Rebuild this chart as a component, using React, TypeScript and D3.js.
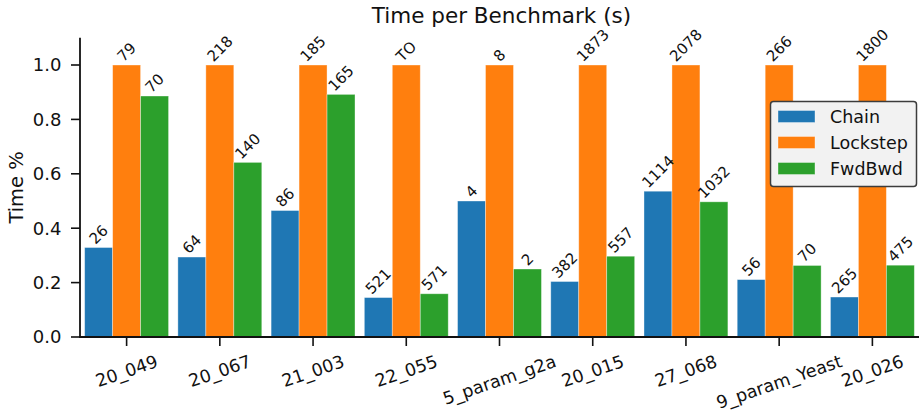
import React, { useEffect, useRef } from 'react'
import * as d3 from 'd3'

const categories = ['20_049', '20_067', '21_003', '22_055', '5_param_g2a', '20_015', '27_068', '9_param_Yeast', '20_026']
const chain = [0.329, 0.294, 0.465, 0.145, 0.5, 0.204, 0.536, 0.211, 0.147]
const lockstep = [1, 1, 1, 1, 1, 1, 1, 1, 1]
const fwdBwd = [0.886, 0.642, 0.892, 0.159, 0.25, 0.297, 0.497, 0.263, 0.264]
const chainLabels = ['26', '64', '86', '521', '4', '382', '1114', '56', '265']
const lockstepLabels = ['79', '218', '185', 'TO', '8', '1873', '2078', '266', '1800']
const fwdBwdLabels = ['70', '140', '165', '571', '2', '557', '1032', '70', '475']
const seriesNames = ['Chain', 'Lockstep', 'FwdBwd']
const yTicks = [0, 0.2, 0.4, 0.6, 0.8, 1.0]

const W = 921
const H = 417
const FONT = 'DejaVu Sans'
const colors = ['#1f77b4', '#ff7f0e', '#2ca02c']
const ink = '#111'

const App = () => {
    const svgRef = useRef<SVGSVGElement>(null)

    useEffect(() => {
        const svg = d3.select(svgRef.current)
        svg.selectAll('*').remove()

        const x = d3.scaleLinear().domain([-0.5, 8.5]).range([80, 919])
        const y = d3.scaleLinear().domain([0, 1.1]).range([337, 37.8])
        const bw = 0.3

        const series = [
            { name: seriesNames[0], values: chain, labels: chainLabels, off: -bw },
            { name: seriesNames[1], values: lockstep, labels: lockstepLabels, off: 0 },
            { name: seriesNames[2], values: fwdBwd, labels: fwdBwdLabels, off: bw },
        ]

        // bars
        series.forEach((s, si) => {
            svg.append('g')
                .selectAll('rect')
                .data(s.values)
                .join('rect')
                .attr('x', (d, i) => x(i + s.off - bw / 2))
                .attr('width', x(bw) - x(0))
                .attr('y', d => y(d))
                .attr('height', d => y(0) - y(d))
                .attr('fill', colors[si])
                .attr('stroke', 'white')
                .attr('stroke-opacity', 0.45)
                .attr('stroke-width', 0.8)
        })

        // rotated value labels (bbox centered, bottom at bar top)
        const afs = 15
        const a = Math.PI / 4
        series.forEach((s) => {
            s.values.forEach((v, i) => {
                const g = svg.append('g')
                const t = g.append('text')
                    .text(s.labels[i])
                    .attr('font-family', FONT)
                    .attr('font-size', afs)
                    .attr('fill', ink)
                    .attr('text-anchor', 'middle')
                    .attr('y', 0.346 * afs)
                const w = (t.node() as SVGTextElement).getComputedTextLength()
                const h = 1.164 * afs
                const bh = w * Math.sin(a) + h * Math.cos(a)
                g.attr('transform', `translate(${x(i + s.off)},${y(v) - bh / 2}) rotate(-45)`)
            })
        })

        // spines
        svg.append('line')
            .attr('x1', 80).attr('x2', 80).attr('y1', y(1.1)).attr('y2', y(0))
            .attr('stroke', ink).attr('stroke-width', 1.8)
        svg.append('line')
            .attr('x1', 79.1).attr('x2', 919).attr('y1', y(0)).attr('y2', y(0))
            .attr('stroke', ink).attr('stroke-width', 1.8)

        // y ticks
        yTicks.forEach(tv => {
            svg.append('line')
                .attr('x1', 71).attr('x2', 80).attr('y1', y(tv)).attr('y2', y(tv))
                .attr('stroke', ink).attr('stroke-width', 1.6)
            svg.append('text')
                .text(d3.format('.1f')(tv))
                .attr('x', 61.5).attr('y', y(tv))
                .attr('dy', '0.35em')
                .attr('text-anchor', 'end')
                .attr('font-family', FONT).attr('font-size', 18).attr('fill', ink)
        })

        // x ticks + rotated labels
        const xfs = 17.5
        const r = (19 * Math.PI) / 180
        categories.forEach((c, i) => {
            svg.append('line')
                .attr('x1', x(i)).attr('x2', x(i)).attr('y1', y(0)).attr('y2', y(0) + 9)
                .attr('stroke', ink).attr('stroke-width', 1.6)
            const g = svg.append('g')
            const t = g.append('text')
                .text(c)
                .attr('font-family', FONT).attr('font-size', xfs).attr('fill', ink)
                .attr('text-anchor', 'middle')
                .attr('y', 0.346 * xfs)
            const w = (t.node() as SVGTextElement).getComputedTextLength()
            const h = 1.164 * xfs
            const bh = w * Math.sin(r) + h * Math.cos(r)
            g.attr('transform', `translate(${x(i)},${351 + bh / 2}) rotate(-19)`)
        })

        // title and y label
        svg.append('text')
            .text('Time per Benchmark (s)')
            .attr('x', (80 + 919) / 2 + 2).attr('y', 23)
            .attr('text-anchor', 'middle')
            .attr('font-family', FONT).attr('font-size', 21.5).attr('fill', ink)
        svg.append('text')
            .text('Time %')
            .attr('transform', `translate(22.5,${(y(0) + y(1.1)) / 2}) rotate(-90)`)
            .attr('text-anchor', 'middle')
            .attr('font-family', FONT).attr('font-size', 19.5).attr('fill', ink)

        // legend
        const lg = svg.append('g')
        lg.append('rect')
            .attr('x', 770.5).attr('y', 101.5).attr('width', 146).attr('height', 85)
            .attr('rx', 3)
            .attr('fill', '#f2f2f2').attr('stroke', '#3c3c3c').attr('stroke-width', 1.5)
        seriesNames.forEach((n, i) => {
            const cy = 116.5 + i * 26
            lg.append('rect')
                .attr('x', 778).attr('y', cy - 6).attr('width', 37).attr('height', 12)
                .attr('fill', colors[i])
                .attr('stroke', 'white').attr('stroke-opacity', 0.45).attr('stroke-width', 0.8)
            lg.append('text')
                .text(n)
                .attr('x', 830).attr('y', cy).attr('dy', '0.35em')
                .attr('font-family', FONT).attr('font-size', 17.5).attr('fill', ink)
        })
    }, [])

    return (
        <svg ref={svgRef} width={W} height={H}
            style={{ position: 'absolute', left: 0, top: 0, background: '#fff' }}>
        </svg>
    )
}

export default App
